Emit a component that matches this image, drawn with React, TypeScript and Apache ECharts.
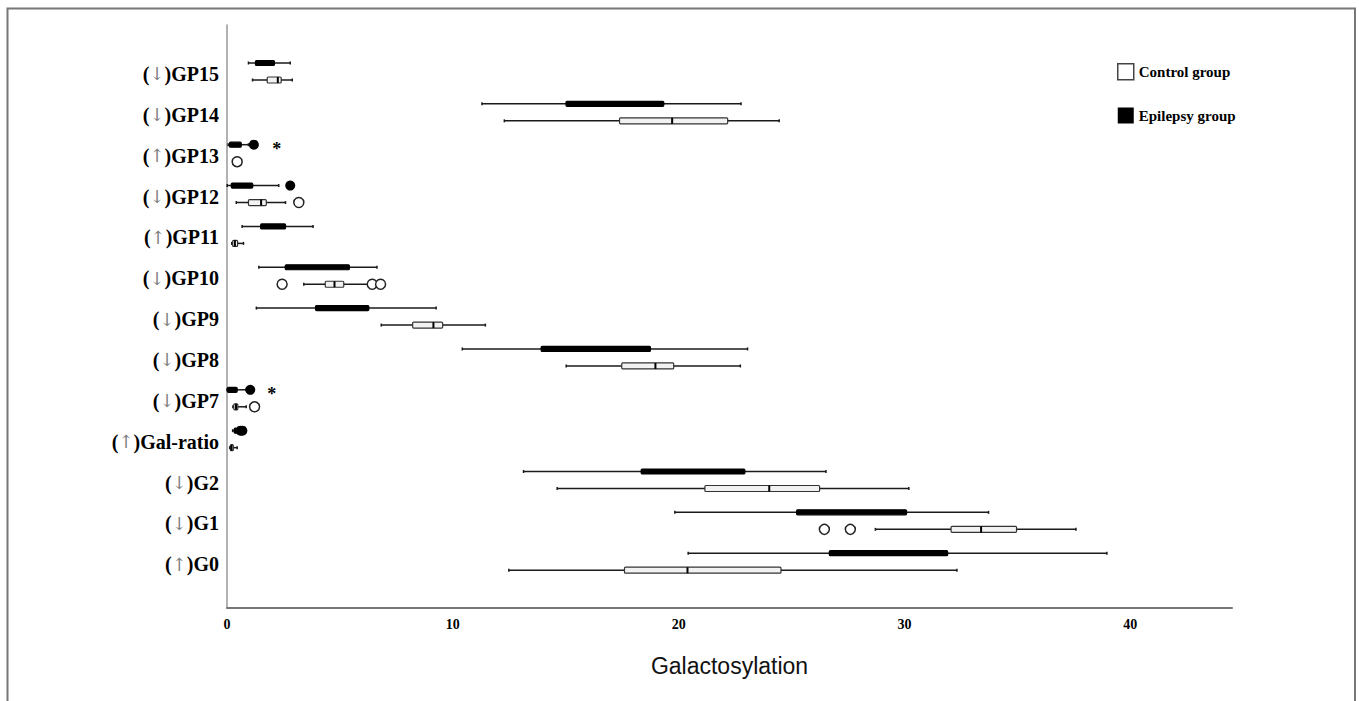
import React, { useEffect, useRef } from "react";
import * as echarts from "echarts";

// Rows from bottom (index 0) to top (index 12)
const glycans = ["G0", "G1", "G2", "Gal-ratio", "GP7", "GP8", "GP9", "GP10", "GP11", "GP12", "GP13", "GP14", "GP15"];
const directions = ["↑", "↓", "↓", "↑", "↓", "↓", "↓", "↓", "↑", "↓", "↑", "↓", "↓"];

// [min, Q1, median, Q3, max] for each row
const epilepsyBoxes: (number[] | null)[] = [
  [20.42, 26.67, 28.44, 31.91, 38.96],
  [19.83, 25.22, 28.96, 30.09, 33.72],
  [13.13, 18.34, 20.6, 22.93, 26.52],
  [0.25, 0.32, 0.38, 0.44, 0.52],
  [0.0, 0.02, 0.2, 0.45, 0.85],
  [10.42, 13.91, 16.3, 18.75, 23.05],
  [1.3, 3.92, 5.2, 6.28, 9.26],
  [1.41, 2.58, 4.02, 5.42, 6.64],
  [0.67, 1.49, 2.0, 2.59, 3.81],
  [0.01, 0.19, 0.6, 1.14, 2.29],
  [0.05, 0.11, 0.35, 0.63, 0.95],
  [11.29, 15.01, 17.0, 19.34, 22.76],
  [0.95, 1.26, 1.7, 2.1, 2.8],
];
const controlBoxes: (number[] | null)[] = [
  [12.48, 17.6, 20.39, 24.53, 32.32],
  [28.71, 32.06, 33.39, 34.96, 37.59],
  [14.62, 21.16, 24.01, 26.24, 30.19],
  [0.12, 0.15, 0.2, 0.28, 0.45],
  [0.26, 0.3, 0.4, 0.48, 0.85],
  [15.02, 17.48, 18.97, 19.78, 22.73],
  [6.83, 8.22, 9.14, 9.55, 11.44],
  [3.4, 4.35, 4.76, 5.17, 6.3],
  [0.21, 0.25, 0.35, 0.47, 0.73],
  [0.41, 0.95, 1.51, 1.74, 2.59],
  null,
  [12.28, 17.38, 19.71, 22.17, 24.45],
  [1.13, 1.78, 2.25, 2.4, 2.89],
];
// outliers: [value, row]
const epilepsyOutliers = [[0.6, 3], [0.68, 3], [1.03, 4], [2.8, 9], [1.19, 10]];
const controlOutliers = [[26.45, 1], [27.6, 1], [1.22, 4], [2.44, 7], [6.43, 7], [6.8, 7], [3.18, 9], [0.45, 10]];
// extreme values (stars): [value, row]
const epilepsyExtremes = [[1.98, 4], [2.2, 10]];

const xTicks = [0, 10, 20, 30, 40];
const legendNames = ["Control group", "Epilepsy group"];

const SERIF = "'Liberation Serif', 'Times New Roman', serif";
const EPI_DY = -8.5;
const CTRL_DY = 8.5;

function boxRenderer(dy: number, fill: string, stroke: string, h: number, showMedian: boolean) {
  return (params: any, api: any) => {
    const row = api.value(0);
    const pts = [1, 2, 3, 4, 5].map((i) => api.coord([api.value(i), row]));
    const y = pts[0][1] + dy;
    const [x0, x1, x2, x3, x4] = pts.map((p: number[]) => p[0]);
    const ln = { stroke: "#1a1a1a", lineWidth: 1.5 };
    const children: any[] = [
      { type: "line", shape: { x1: x0, y1: y, x2: x4, y2: y }, style: ln },
      { type: "line", shape: { x1: x0, y1: y - 1.5, x2: x0, y2: y + 1.5 }, style: ln },
      { type: "line", shape: { x1: x4, y1: y - 1.5, x2: x4, y2: y + 1.5 }, style: ln },
      {
        type: "rect",
        shape: { x: x1, y: y - h / 2, width: Math.max(x3 - x1, 1), height: h, r: 1 },
        style: { fill, stroke, lineWidth: 1.2 },
      },
    ];
    if (showMedian) {
      children.push({
        type: "line",
        shape: { x1: x2, y1: y - h / 2, x2: x2, y2: y + h / 2 },
        style: { stroke: "#000", lineWidth: 2 },
      });
    }
    return { type: "group", children };
  };
}

export default function App() {
  const ref = useRef<HTMLDivElement>(null);
  useEffect(() => {
    if (!ref.current) return;
    const chart = echarts.init(ref.current, null, { renderer: "svg" });
    const toData = (boxes: (number[] | null)[]) =>
      boxes.map((b, i) => (b ? [i, ...b] : null)).filter((d) => d !== null);

    const option: any = {
      animation: false,
      backgroundColor: "#fff",
      grid: { left: 227, right: 127, top: 25, bottom: 93, containLabel: false },
      legend: {
        left: 1112,
        top: 58,
        orient: "vertical",
        itemWidth: 16,
        itemHeight: 16,
        itemGap: 27,
        selectedMode: false,
        textStyle: { fontFamily: SERIF, fontWeight: "bold", fontSize: 15, color: "#000" },
        data: [
          { name: legendNames[0], icon: "rect", itemStyle: { color: "#fff", borderColor: "#444", borderWidth: 1.5 } },
          { name: legendNames[1], icon: "rect", itemStyle: { color: "#000", borderColor: "#000", borderWidth: 0 } },
        ],
      },
      xAxis: {
        type: "value",
        min: 0,
        max: 44.5,
        interval: 10,
        name: "Galactosylation",
        nameLocation: "middle",
        nameGap: 46,
        nameTextStyle: { fontFamily: "'Liberation Sans', Arial, sans-serif", fontSize: 23, color: "#111" },
        axisLine: { show: true, onZero: false, lineStyle: { color: "#777", width: 2 } },
        axisTick: { show: false },
        splitLine: { show: false },
        axisLabel: {
          margin: 9,
          customValues: xTicks,
          fontFamily: SERIF,
          fontWeight: "bold",
          fontSize: 14,
          color: "#000",
        },
      },
      yAxis: {
        type: "value",
        min: -1.133,
        max: 13.138,
        axisLine: { show: true, onZero: false, lineStyle: { color: "#999", width: 1.5 } },
        axisTick: { show: false },
        splitLine: { show: false },
        axisLabel: {
          customValues: glycans.map((_, i) => i),
          margin: 8,
          padding: [5, 0, 0, 0],
          fontFamily: SERIF,
          fontWeight: "bold",
          fontSize: 20,
          color: "#000",
          formatter: (v: number) => {
            const i = Math.round(v);
            return "(" + "{a|" + directions[i] + "}" + ")" + glycans[i];
          },
          rich: {
            a: { fontFamily: "'DejaVu Serif', serif", fontWeight: "normal", fontSize: 18, color: "#808080" },
          },
        },
      },
      graphic: [
        {
          type: "rect",
          left: 5,
          top: 6,
          shape: { x: 5, y: 6.5, width: 1347.5, height: 720 },
          style: { fill: "none", stroke: "#777", lineWidth: 2 },
          silent: true,
        },
      ],
      series: [
        {
          name: legendNames[1],
          type: "custom",
          renderItem: boxRenderer(EPI_DY, "#000", "#000", 5, false),
          encode: { x: [1, 2, 3, 4, 5], y: 0 },
          itemStyle: { color: "#000" },
          data: toData(epilepsyBoxes),
          z: 2,
        },
        {
          name: legendNames[0],
          type: "custom",
          renderItem: boxRenderer(CTRL_DY, "#f2f2f2", "#333", 6, true),
          encode: { x: [1, 2, 3, 4, 5], y: 0 },
          itemStyle: { color: "#fff", borderColor: "#444" },
          data: toData(controlBoxes),
          z: 2,
        },
        {
          name: "Epilepsy outliers",
          type: "scatter",
          symbol: "circle",
          symbolSize: 10,
          symbolOffset: [0, EPI_DY],
          itemStyle: { color: "#000", opacity: 1 },
          data: epilepsyOutliers,
          z: 3,
        },
        {
          name: "Control outliers",
          type: "scatter",
          symbol: "circle",
          symbolSize: 10,
          symbolOffset: [0, CTRL_DY],
          itemStyle: { color: "#fff", borderColor: "#222", borderWidth: 1.5, opacity: 1 },
          data: controlOutliers,
          z: 3,
        },
        {
          name: "Epilepsy extremes",
          type: "custom",
          renderItem: (params: any, api: any) => {
            const p = api.coord([api.value(0), api.value(1)]);
            return {
              type: "text",
              x: p[0],
              y: p[1] + EPI_DY + 4,
              style: {
                text: "*",
                fontFamily: SERIF,
                fontWeight: "bold",
                fontSize: 18,
                fill: "#000",
                align: "center",
                verticalAlign: "middle",
              },
            };
          },
          encode: { x: 0, y: 1 },
          data: epilepsyExtremes,
          z: 3,
        },
      ],
    };
    chart.setOption(option);
    return () => chart.dispose();
  }, []);
  return (
    <div
      ref={ref}
      style={{ position: "fixed", left: 0, top: 0, width: 1359, height: 701, background: "#fff" }}
    />
  );
}
